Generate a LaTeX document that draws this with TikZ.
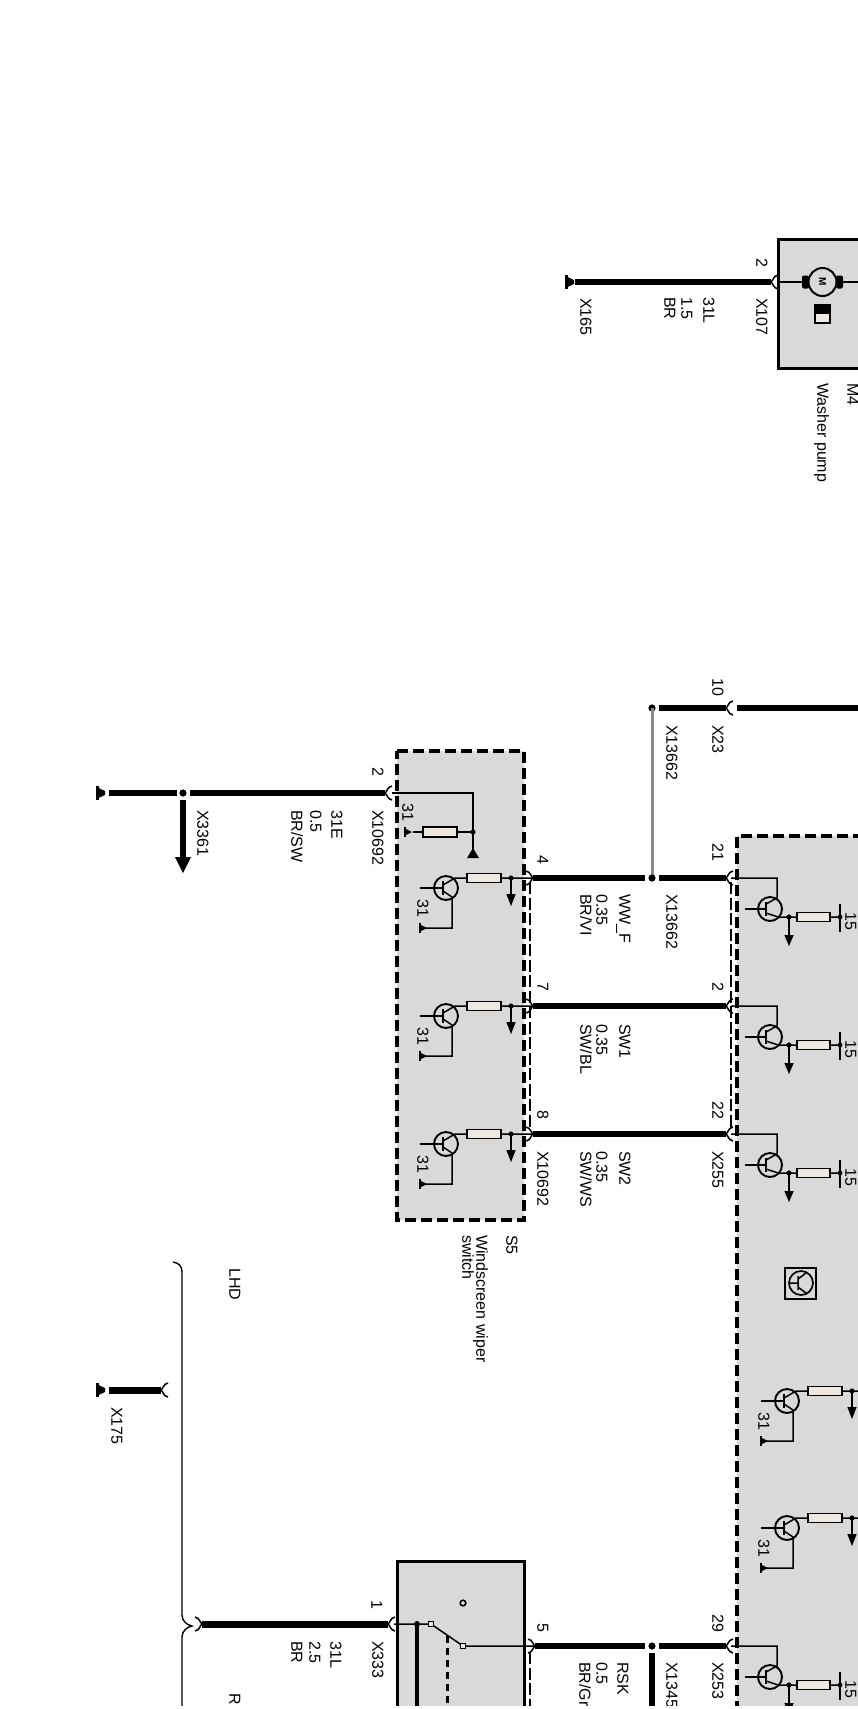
\documentclass[tikz,border=0pt]{standalone}
\usepackage{fontspec}
\setmainfont{Liberation Sans}
\definecolor{boxgray}{HTML}{D9D9D9}
\definecolor{resfill}{HTML}{EDE9E2}
\tikzset{
  thickwire/.style={line width=6pt},
  fatwire/.style={line width=7pt},
  thinwire/.style={line width=1.5pt},
  graywire/.style={line width=3pt,draw=black!45},
  solidbox/.style={line width=3pt,draw=black,fill=boxgray},
  dashborder/.style={line width=3.2pt,dash pattern=on 11pt off 5pt},
  linkdash/.style={line width=1.2pt,dash pattern=on 12pt off 3.5pt},
  forkline/.style={line width=1.5pt},
  resistor/.style={line width=1.4pt,draw=black,fill=resfill},
  lab/.style={rotate=-90,anchor=west,inner sep=0pt,text height=11.4pt,text depth=0pt,font=\fontsize{16}{16}\selectfont,text=black},
  forkR/.pic={\draw[forkline] (7,-7) .. controls (2,-6) and (2,-1) .. (0,0) .. controls (2,1) and (2,6) .. (7,7);},
  forkL/.pic={\draw[forkline] (-7,-7) .. controls (-2,-6) and (-2,-1) .. (0,0) .. controls (-2,1) and (-2,6) .. (-7,7);},
  bigground/.pic={\fill (0,-7) rectangle (2.5,7); \fill (2.5,-5) -- (9,-2) -- (9,2) -- (2.5,5) -- cycle;},
  smallground/.pic={\draw[line width=1.8pt] (0,-5) -- (0,5); \fill (0,-3.5) -- (7,0) -- (0,3.5) -- cycle;},
  junction/.pic={\fill (0,0) circle (3.6);},
  trleft/.pic={
    \draw[thinwire] (22,0) -- (-56,0) -- (-68,7);
    \draw[resistor] (-44,-4.5) rectangle (-10,4.5);
    \draw[line width=1.9pt] (-65,10) circle (12);
    \draw[line width=2.4pt] (-68,3) -- (-68,17);
    \draw[thinwire] (-91,10) -- (-68,10);
    \draw[thinwire] (-68,13) -- (-59,19) -- (-59,50) -- (-86,50);
    \pic at (-91,50) {smallground};
    \node[lab] (-thirtyone) at (-88,21) {31};
    \fill (0,0) circle (2.6);
    \draw[line width=1.8pt] (0,0) -- (0,18);
    \fill (-4.7,16) -- (4.7,16) -- (0,28) -- cycle;
  },
  trright/.pic={
    \draw[thinwire] (-58,0) -- (-12,0) -- (-12,20) -- (-23,26);
    \draw[line width=1.9pt] (-19,31) circle (12);
    \draw[line width=2.4pt] (-23,24) -- (-23,38);
    \draw[thinwire] (-44,31) -- (-23,31);
    \draw[thinwire] (-23,35) -- (-11,39) -- (51,39);
    \draw[resistor] (8,34.5) rectangle (41,43.5);
    \fill (0,39) circle (2.6);
    \fill (51,39) circle (2.4);
    \draw[line width=2.2pt] (51,26) -- (51,54);
    \node[lab] (-fifteen) at (62,34) {15};
    \draw[line width=1.8pt] (0,39) -- (0,59);
    \fill (-4.7,57) -- (4.7,57) -- (0,68) -- cycle;
  },
}
\newcommand{\Wire}[5][thickwire]{\coordinate (#2a) at (#3,#5); \coordinate (#2b) at (#4,#5); \draw[#1] (#2a) -- (#2b);}
\newcommand{\Lab}[4]{\node[lab] (#1) at (#2,#3) {#4};}
\begin{document}
\begin{tikzpicture}[x=1pt,y=-1pt]
\path[use as bounding box] (0,0) rectangle (858,1709);
\clip (0,0) rectangle (858,1705);
% boxes
\draw[solidbox] (778,239.5) rectangle (880,368);
\fill[boxgray] (737,836) rectangle (880,1720);
\draw[dashborder] (880,836) -- (737,836) -- (737,1720);
\fill[boxgray] (397,751) rectangle (524,1220);
\draw[dashborder] (397,751) -- (524,751) -- (524,1220) -- (397,1220) -- cycle;
\draw[solidbox] (397,1720) -- (397,1561) -- (524,1561) -- (524,1720);
% washer pump
\Wire{wa}{575}{771}{282}
\pic at (771,282) {forkR};
\pic at (565,282) {bigground};
\coordinate (ma) at (778,282); \coordinate (mb) at (803,282); \coordinate (mc) at (842,282); \coordinate (md) at (870,282);
\draw[thinwire] (ma) -- (mb) (mc) -- (md);
\fill[rounded corners=2pt] (802,275.5) rectangle (809,288.5);
\fill[rounded corners=2pt] (836,275.5) rectangle (843,288.5);
\draw[line width=2pt,fill=boxgray] (822.5,282) circle (14);
\node[rotate=-90,inner sep=0pt,font=\bfseries\fontsize{10}{10}\selectfont] (mot) at (822.5,282) {M};
\draw[line width=1.2pt,fill=resfill] (815,305) rectangle (830,323);
\fill (815,305) rectangle (830,314);
\Lab{p2}{762}{258}{2}
\Lab{x107}{762}{298}{X107}
\Lab{l31L}{709}{297}{31L}
\Lab{l15}{687}{297}{1.5}
\Lab{lBR}{670}{297}{BR}
\Lab{x165}{586}{298}{X165}
\Lab{m4}{853}{383}{M4}
\Lab{wp}{823}{383}{Washer pump}
% top connector
\Wire{tw}{659}{726}{708}
\Wire{tw2}{737}{880}{708}
\pic at (726,708) {forkR};
\pic (ja) at (652,708) {junction};
\coordinate (ga) at (652,708); \coordinate (gb) at (652,878);
\draw[graywire] (ga) -- (gb);
\pic (jb) at (652,878) {junction};
\Lab{p10}{718}{678}{10}
\Lab{x23}{718}{725}{X23}
\Lab{x13662a}{672}{725}{X13662}
% three links
\Wire{la}{533}{645}{878}
\Wire{lb}{659}{726}{878}
\Wire{lc}{533}{726}{1006}
\Wire{ld}{533}{726}{1134}
\foreach \yy in {878,1006,1134}{
  \pic at (533,\yy) {forkL};
  \pic at (726,\yy) {forkR};
}
\coordinate (da) at (530,882); \coordinate (db) at (530,1130);
\coordinate (dc) at (731,882); \coordinate (dd) at (731,1130);
\draw[linkdash] (da) -- (db);
\draw[linkdash] (dc) -- (dd);
\Lab{p21}{718}{843}{21}
\Lab{p2b}{718}{982}{2}
\Lab{p22}{718}{1101}{22}
\Lab{x255}{718}{1151}{X255}
\Lab{p4}{543}{855}{4}
\Lab{p7}{543}{982}{7}
\Lab{p8}{543}{1110}{8}
\Lab{x10692a}{543}{1151}{X10692}
\Lab{x13662b}{672}{894}{X13662}
\Lab{wwf}{625}{894}{WW\_F}
\Lab{a035}{602}{894}{0.35}
\Lab{brvi}{586}{894}{BR/VI}
\Lab{sw1}{625}{1024}{SW1}
\Lab{b035}{602}{1024}{0.35}
\Lab{swbl}{586}{1024}{SW/BL}
\Lab{sw2}{625}{1151}{SW2}
\Lab{c035}{602}{1151}{0.35}
\Lab{swws}{586}{1151}{SW/WS}
% transistors in the right box
\pic (ra) at (789,878) {trright};
\pic (rb) at (789,1006) {trright};
\pic (rc) at (789,1134) {trright};
\pic (rd) at (789,1646) {trright};
% square symbol
\draw[line width=1.8pt] (785,1268) rectangle (816,1299);
\draw[line width=1.7pt] (801,1283) circle (12);
\draw[line width=1.5pt] (789,1283) -- (798,1283) (798,1276) -- (798,1290) (798,1279) -- (806,1273) (798,1287) -- (806,1293);
% lower transistors of the right box
\pic (re) at (852,1391) {trleft};
\pic (rf) at (852,1518) {trleft};
% S5
\Wire{ea}{109}{177}{793}
\Wire{eb}{190}{385}{793}
\pic at (385,793) {forkR};
\pic at (96,793) {bigground};
\pic (jc) at (183,793) {junction};
\coordinate (ba) at (183,800); \coordinate (bb) at (183,858);
\draw[thickwire] (ba) -- (bb);
\fill (175,857) -- (191,857) -- (183,873) -- cycle;
\coordinate (sa) at (392,793); \coordinate (sb) at (473,793); \coordinate (sc) at (473,850); \coordinate (sd) at (413,832); \coordinate (se) at (473,832);
\draw[thinwire] (sa) -- (sb) -- (sc);
\draw[thinwire] (se) -- (sd);
\draw[resistor] (423,827) rectangle (457,837);
\fill (se) circle (2.6);
\fill (467,858) -- (479,858) -- (473,848) -- cycle;
\pic at (405,832) {smallground};
\Lab{s31}{408}{803}{31}
\pic (sta) at (511,878) {trleft};
\pic (stb) at (511,1006) {trleft};
\pic (stc) at (511,1134) {trleft};
\Lab{p2c}{378}{767}{2}
\Lab{x10692b}{378}{810}{X10692}
\Lab{e31}{337}{810}{31E}
\Lab{e05}{316}{810}{0.5}
\Lab{ebr}{297}{810}{BR/SW}
\Lab{x3361}{203}{810}{X3361}
\Lab{s5}{512}{1235}{S5}
\Lab{ws1}{482}{1235}{Windscreen wiper}
\Lab{ws2}{468}{1235}{switch}
% brace
\coordinate (br1) at (173,1262); \coordinate (br2) at (182,1272); \coordinate (br3) at (182,1615);
\coordinate (br4) at (192,1626); \coordinate (br5) at (182,1637); \coordinate (br6) at (182,1720);
\draw[line width=1.4pt] (br1) .. controls (179,1263) and (182,1266) .. (br2) -- (br3) .. controls (182,1621) and (187,1625) .. (br4) .. controls (187,1627) and (182,1631) .. (br5) -- (br6);
\Lab{lhd}{235}{1268}{LHD}
\Lab{rhd}{235}{1693}{R}
% X175
\Wire[fatwire]{xa}{109}{161}{1390}
\pic at (161,1390) {forkR};
\pic at (96,1390) {bigground};
\Lab{x175}{117}{1407}{X175}
% X333
\Wire[fatwire]{ya}{202}{388}{1624}
\pic at (388,1624) {forkR};
\pic at (202,1624) {forkL};
\Lab{p1}{377}{1600}{1}
\Lab{x333}{378}{1641}{X333}
\Lab{y31}{336}{1641}{31L}
\Lab{y25}{315}{1641}{2.5}
\Lab{ybr}{297}{1641}{BR}
% switch box
\coordinate (c1) at (394,1624); \coordinate (c2) at (431,1624); \coordinate (c3) at (463,1646); \coordinate (c4) at (535,1646);
\coordinate (c5) at (417,1624); \coordinate (c6) at (417,1720); \coordinate (c7) at (447,1636); \coordinate (c8) at (447,1720);
\draw[thinwire] (c1) -- (c2) -- (c3) -- (c4);
\draw[line width=4pt] (c5) -- (c6);
\fill (c5) circle (3);
\draw[line width=3pt,dash pattern=on 7pt off 5pt] (c7) -- (c8);
\draw[line width=1.3pt,fill=resfill] (428.5,1621.5) rectangle (433.5,1626.5);
\draw[line width=1.3pt,fill=resfill] (460.5,1643.5) rectangle (465.5,1648.5);
\draw[line width=1.6pt,fill=resfill] (463,1603) circle (2.8);
% RSK
\Wire{za}{535}{645}{1646}
\Wire{zb}{659}{726}{1646}
\pic at (535,1646) {forkL};
\pic at (726,1646) {forkR};
\pic (jd) at (652,1646) {junction};
\coordinate (ve) at (652,1653); \coordinate (vf) at (652,1720);
\draw[thickwire] (ve) -- (vf);
\coordinate (dg) at (530,1652); \coordinate (dh) at (530,1720);
\draw[linkdash] (dg) -- (dh);
\Lab{p5}{543}{1623}{5}
\Lab{p29}{718}{1614}{29}
\Lab{x253}{718}{1662}{X253}
\Lab{x1345}{672}{1662}{X1345}
\Lab{rsk}{623}{1662}{RSK}
\Lab{r05}{602}{1662}{0.5}
\Lab{rbr}{585}{1662}{BR/Gr}
\end{tikzpicture}
\end{document}
